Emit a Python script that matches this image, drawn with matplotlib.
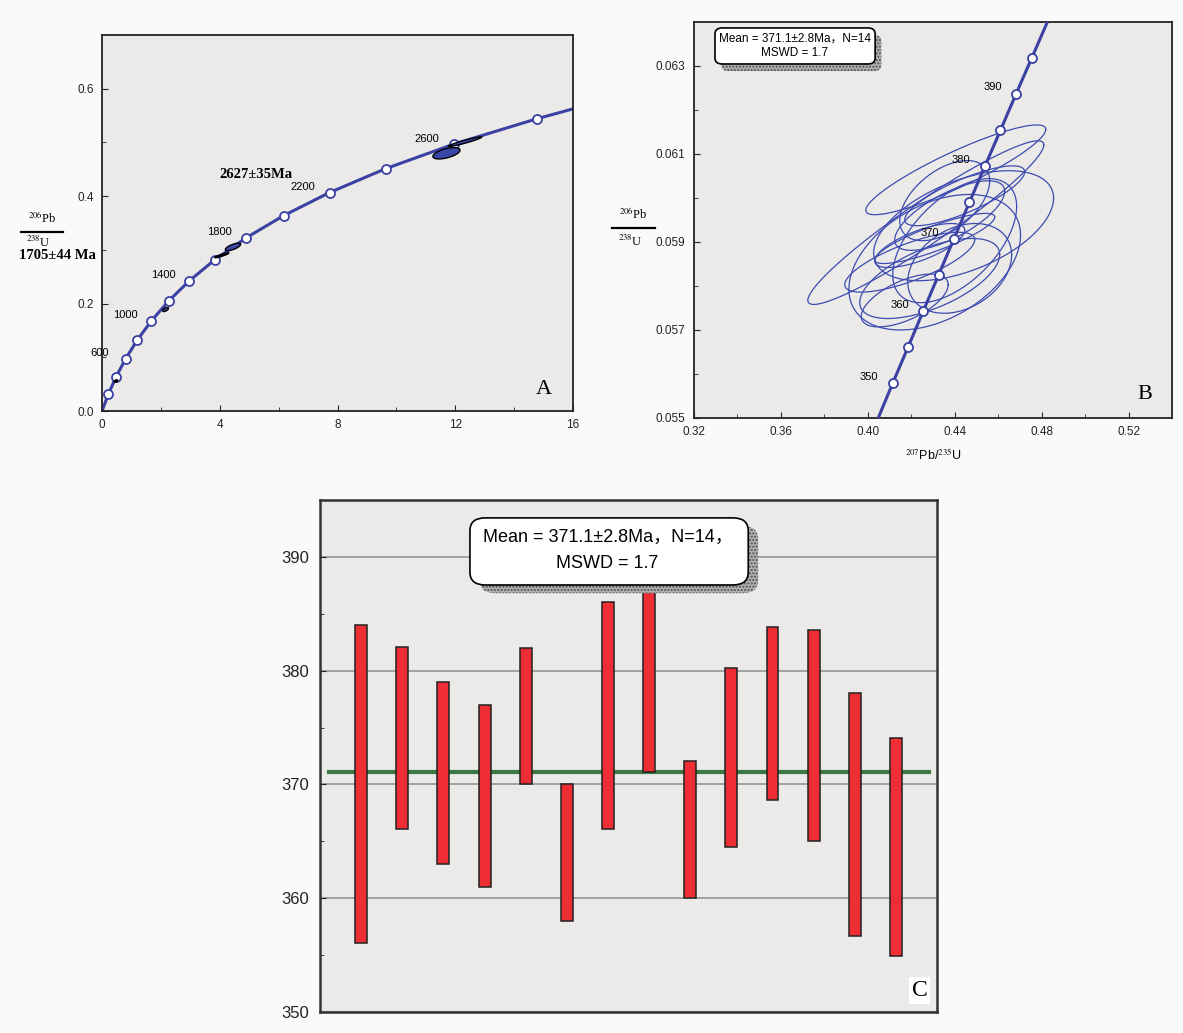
import numpy as np
import matplotlib.pyplot as plt
from matplotlib.patches import FancyBboxPatch
from matplotlib.ticker import FormatStrFormatter

plt.rcParams['font.family'] = ['Liberation Sans', 'Noto Sans CJK SC']
plt.rcParams['mathtext.fontset'] = 'stix'

# ---- panel A: concordia (age markers every 200 Ma) and analyses
a_ages = [200, 400, 600, 800, 1000, 1200, 1400, 1600, 1800, 2000, 2200, 2400, 2600, 2800]
a_x = [0.2177, 0.4828, 0.8056, 1.1987, 1.6774, 2.2603, 2.9701, 3.8345, 4.8867,
       6.1688, 7.7298, 9.6300, 11.944, 14.762]
a_y = [0.03151, 0.06402, 0.09754, 0.13213, 0.16780, 0.20460, 0.24257, 0.28174,
       0.32212, 0.36378, 0.40675, 0.45107, 0.49680, 0.54396]
a_curve_start = (0.0, 0.0)
a_curve_end = (16.0, 0.5625)
a_labelled = [600, 1000, 1400, 1800, 2200, 2600]

# analyses: 207/235, err, 206/238, err, rho, fill colour
a_ell_x = [0.476, 2.16, 4.07, 4.45, 11.70, 12.33]
a_ell_sx = [0.06, 0.10, 0.24, 0.26, 0.46, 0.57]
a_ell_y = [0.0559, 0.189, 0.290, 0.3055, 0.4798, 0.5014]
a_ell_sy = [0.0022, 0.0038, 0.0045, 0.0070, 0.0105, 0.0090]
a_ell_rho = [0.5, 0.6, 0.9, 0.7, 0.55, 0.95]
a_ell_color = ['black', '#3a47a6', 'black', '#3a47a6', '#3a47a6', '#3a47a6']

# ---- panel B: concordia (every 5 Ma) and 14 analyses
b_ages = [350, 355, 360, 365, 370, 375, 380, 385, 390, 395]
b_x = [0.41155, 0.41853, 0.42553, 0.43257, 0.43963, 0.44675, 0.45389, 0.46107, 0.46827, 0.47553]
b_y = [0.05580, 0.05661, 0.05743, 0.05825, 0.05907, 0.05990, 0.06072, 0.06154, 0.06237, 0.06319]
b_curve_start = (0.40481, 0.0550)
b_curve_end = (0.48264, 0.0640)
b_labelled = [350, 360, 370, 380, 390]

b_ell_x = [0.4405, 0.4267, 0.4441, 0.4308, 0.4400, 0.4193, 0.4308,
           0.4377, 0.4170, 0.4423, 0.4354, 0.4239, 0.4446, 0.4285]
b_ell_sx = [0.0414, 0.0543, 0.0414, 0.0395, 0.0285, 0.0299, 0.0276,
            0.0253, 0.0200, 0.0239, 0.0207, 0.0207, 0.0276, 0.0322]
b_ell_y = [0.06064, 0.05944, 0.05937, 0.05854, 0.05903, 0.05854, 0.05908,
           0.05960, 0.05767, 0.05840, 0.05994, 0.05892, 0.06005, 0.05817]
b_ell_sy = [0.00102, 0.00186, 0.00125, 0.00154, 0.00141, 0.00068, 0.00057,
            0.00079, 0.00060, 0.00102, 0.00091, 0.00050, 0.00068, 0.00091]
b_ell_rho = [0.90, 0.95, 0.50, 0.40, 0.55, 0.75, 0.85, 0.70, 0.60, 0.30, 0.50, 0.70, 0.80, 0.60]

# ---- panel C: 206Pb/238U ages with error bars
c_spot = list(range(1, 15))
c_low = [356.1, 366.1, 363.0, 361.0, 370.0, 358.0, 366.1, 371.1, 360.0, 364.5, 368.6, 365.0, 356.7, 354.9]
c_high = [384.0, 382.1, 379.0, 377.0, 382.0, 370.0, 386.0, 390.5, 372.1, 380.2, 383.8, 383.6, 378.0, 374.1]
mean_age = 371.1
mean_text = 'Mean = 371.1±2.8Ma，N=14'

blue = '#3a41a3'
bg = '#ebeae8'


def ellipse_xy(x, sx, y, sy, rho, n=120):
    t = np.linspace(0, 2 * np.pi, n)
    return x + sx * np.cos(t), y + sy * (rho * np.cos(t) + np.sqrt(1 - rho ** 2) * np.sin(t))


def style_axes(ax):
    ax.set_facecolor(bg)
    for s in ax.spines.values():
        s.set_color('#222222')
        s.set_linewidth(1.3)
    ax.tick_params(which='both', direction='in', colors='#222222', labelsize=8.5, pad=6)
    ax.tick_params(which='major', length=4)
    ax.tick_params(which='minor', length=3)


def shadow_box(ax, x0, y0, w, h, dx, dy, r):
    sh = FancyBboxPatch((x0 + dx, y0 + dy), w, h, boxstyle='round,pad=0,rounding_size=%g' % r,
                        transform=ax.transAxes, facecolor='#b0b0b0', edgecolor='#505050',
                        hatch='.....', linewidth=0, zorder=6)
    box = FancyBboxPatch((x0, y0), w, h, boxstyle='round,pad=0,rounding_size=%g' % r,
                         transform=ax.transAxes, facecolor='white', edgecolor='black',
                         linewidth=1.2, zorder=7)
    ax.add_patch(sh)
    ax.add_patch(box)


def frac_label(fig, x, y, top, bottom, half, dy_bottom=0.013):
    fig.text(x, y + 0.013, top, family='Liberation Serif', fontsize=9, ha='center', va='center')
    fig.text(x - 0.003, y - dy_bottom, bottom, family='Liberation Serif', fontsize=9,
             ha='center', va='center')
    fig.add_artist(plt.Line2D([x - half, x + half], [y, y], color='black', lw=1.6,
                              transform=fig.transFigure))


fig = plt.figure(figsize=(11.83, 10.33), dpi=100, facecolor='#fafafa')

# ================= A
axA = fig.add_axes([0.0862, 0.6021, 0.3982, 0.3640])
style_axes(axA)
cx = [a_curve_start[0]] + a_x + [a_curve_end[0]]
cy = [a_curve_start[1]] + a_y + [a_curve_end[1]]
axA.plot(cx, cy, color=blue, lw=2.2, zorder=2)
axA.plot(a_x, a_y, 'o', ms=6.5, mfc='white', mec=blue, mew=1.3, zorder=3)
for age, x, y in zip(a_ages, a_x, a_y):
    if age in a_labelled:
        axA.annotate(str(age), (x, y), xytext=(-19, 4), textcoords='offset points',
                     ha='center', va='center', fontsize=8, zorder=5)
for x, sx, y, sy, r, c in zip(a_ell_x, a_ell_sx, a_ell_y, a_ell_sy, a_ell_rho, a_ell_color):
    ex, ey = ellipse_xy(x, sx, y, sy, r)
    axA.fill(ex, ey, facecolor=c, edgecolor='black', lw=1.0, zorder=4)
axA.set_xlim(0, 16)
axA.set_ylim(0, 0.7)
axA.set_xticks([0, 4, 8, 12, 16])
axA.set_xticks([2, 6, 10, 14], minor=True)
axA.set_yticks([0.0, 0.2, 0.4, 0.6])
axA.set_yticks([0.1, 0.3, 0.5], minor=True)
axA.yaxis.set_major_formatter(FormatStrFormatter('%.1f'))
axA.text(0.327, 0.628, '2627±35Ma', transform=axA.transAxes, family='Liberation Serif',
         fontweight='bold', fontsize=10.5, ha='center', va='center')
axA.text(0.938, 0.058, 'A', transform=axA.transAxes, family='Liberation Serif',
         fontsize=16, ha='center', va='center')

frac_label(fig, 0.0355, 0.7757, r'$^{206}$Pb', r'$^{238}$U', 0.018, dy_bottom=0.010)
fig.text(0.0486, 0.753, '1705±44 Ma', family='Liberation Serif', fontweight='bold',
         fontsize=10.5, ha='center', va='center')

# ================= B
axB = fig.add_axes([0.5866, 0.5954, 0.4041, 0.3833])
style_axes(axB)
cx = [b_curve_start[0]] + b_x + [b_curve_end[0]]
cy = [b_curve_start[1]] + b_y + [b_curve_end[1]]
for x, sx, y, sy, r in zip(b_ell_x, b_ell_sx, b_ell_y, b_ell_sy, b_ell_rho):
    ex, ey = ellipse_xy(x, sx, y, sy, r)
    axB.plot(ex, ey, color='#3d4bb0', lw=0.9, zorder=2)
axB.plot(cx, cy, color=blue, lw=2.2, zorder=3)
axB.plot(b_x, b_y, 'o', ms=6.5, mfc='white', mec=blue, mew=1.3, zorder=4)
for age, x, y in zip(b_ages, b_x, b_y):
    if age in b_labelled:
        axB.annotate(str(age), (x, y), xytext=(-17, 4.5), textcoords='offset points',
                     ha='center', va='center', fontsize=8, zorder=5)
axB.set_xlim(0.32, 0.54)
axB.set_ylim(0.055, 0.064)
axB.set_xticks([0.32, 0.36, 0.40, 0.44, 0.48, 0.52])
axB.set_xticks([0.34, 0.38, 0.42, 0.46, 0.50], minor=True)
axB.set_yticks([0.055, 0.057, 0.059, 0.061, 0.063])
axB.set_yticks([0.056, 0.058, 0.060, 0.062], minor=True)
axB.xaxis.set_major_formatter(FormatStrFormatter('%.2f'))
axB.yaxis.set_major_formatter(FormatStrFormatter('%.3f'))
shadow_box(axB, 0.044, 0.894, 0.335, 0.091, 0.013, -0.018, 0.015)
axB.text(0.211, 0.957, mean_text, transform=axB.transAxes, fontsize=8.5,
         ha='center', va='center', zorder=8)
axB.text(0.211, 0.922, 'MSWD = 1.7', transform=axB.transAxes, fontsize=8.5,
         ha='center', va='center', zorder=8)
axB.text(0.943, 0.058, 'B', transform=axB.transAxes, family='Liberation Serif',
         fontsize=16, ha='center', va='center')

frac_label(fig, 0.5355, 0.7793, r'$^{206}$Pb', r'$^{238}$U', 0.018)
fig.text(0.7887, 0.5595, r'$^{207}$Pb/$^{235}$U', fontsize=9, ha='center', va='center')

# ================= C
axC = fig.add_axes([0.2705, 0.0203, 0.5216, 0.4957])
style_axes(axC)
axC.tick_params(axis='y', labelsize=12, pad=8)
for s in axC.spines.values():
    s.set_linewidth(1.8)
    s.set_color('#333333')
axC.set_axisbelow(True)
axC.yaxis.grid(True, color='#9c9c9c', lw=1.3)
axC.axhline(mean_age, xmin=0.015, xmax=0.987, color='#3c7a45', lw=3, zorder=2)
heights = [h - l for l, h in zip(c_low, c_high)]
axC.bar(c_spot, heights, bottom=c_low, width=0.29, color='#ee2d35',
        edgecolor='#222222', lw=1.1, zorder=3)
axC.set_xlim(0, 15)
axC.set_ylim(350, 395)
axC.set_xticks([])
axC.set_yticks([350, 360, 370, 380, 390])
axC.set_yticks([355, 365, 375, 385], minor=True)
shadow_box(axC, 0.243, 0.834, 0.451, 0.131, 0.016, -0.016, 0.025)
axC.text(0.466, 0.928, mean_text + '，', transform=axC.transAxes, fontsize=13,
         ha='center', va='center', zorder=8)
axC.text(0.466, 0.875, 'MSWD = 1.7', transform=axC.transAxes, fontsize=13,
         ha='center', va='center', zorder=8)
axC.text(0.972, 0.042, 'C', transform=axC.transAxes, family='Liberation Serif',
         fontsize=17, ha='center', va='center', zorder=8,
         bbox=dict(facecolor='white', edgecolor='none', pad=2))

fig.savefig('out.png', dpi=100, facecolor=fig.get_facecolor())
